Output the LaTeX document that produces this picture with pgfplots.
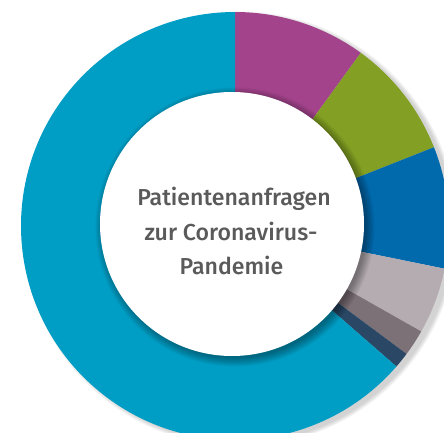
\documentclass[border=0pt]{standalone}
\usepackage{pgfplots}
\pgfplotsset{compat=1.18}
\usepackage{fontspec}
\setmainfont{Fira Sans}
\newfontfamily\labelfont{Fira Sans Medium}
\definecolor{cMag}{HTML}{A2438B}
\definecolor{cGreen}{HTML}{83A024}
\definecolor{cBlue}{HTML}{006AAD}
\definecolor{cLGrey}{HTML}{B4ACB1}
\definecolor{cDGrey}{HTML}{7C7177}
\definecolor{cNavy}{HTML}{2A4865}
\definecolor{cCyan}{HTML}{009DC4}
\definecolor{cText}{HTML}{5A5A5A}
\begin{document}
\begin{tikzpicture}
\useasboundingbox (0,0) rectangle (444pt,432pt);
\begin{axis}[
  at={(0,0)}, anchor=south west,
  x=1pt, y=1pt, scale only axis,
  xmin=0, xmax=444, ymin=0, ymax=432,
  hide axis, clip=true, clip mode=global,
]
\def\cx{235}\def\cy{206}\def\ro{214}
\def\icx{232}\def\icy{208}\def\ri{132}
\pgfplotsextra{
  % outer soft shadow (right / lower right only)
  \foreach \i in {1,...,8}{
    \fill[black, opacity=0.025] (axis cs:\cx+5,\cy-3) circle[radius=\ro pt+\i*0.6pt-1pt];
  }
  % slices (percent of all requests, clockwise from top)
  \xdef\cum{0}
  \foreach \v/\col in {10/cMag, 9/cGreen, 9.2/cBlue, 5/cLGrey, 2/cDGrey, 1.2/cNavy, 63.6/cCyan}{
    \pgfmathsetmacro\a{90-3.6*\cum}
    \pgfmathsetmacro\b{90-3.6*(\cum+\v)}
    \fill[\col] (axis cs:\cx,\cy) -- ++(\a:\ro pt) arc[start angle=\a, end angle=\b, radius=\ro pt] -- cycle;
    \pgfmathparse{\cum+\v}\xdef\cum{\pgfmathresult}
  }
  % inner shadow of the white disc
  \foreach \i in {1,...,12}{
    \fill[black, opacity=0.03] (axis cs:\icx+3,\icy-3) circle[radius=\ri pt+\i*0.8pt-2pt];
  }
  \fill[white] (axis cs:\icx,\icy) circle[radius=\ri pt];
  \node[anchor=base, text=cText, font=\labelfont\fontsize{23.1}{30}\selectfont, inner sep=0pt] at (axis cs:234,227) {Patientenanfragen};
  \node[anchor=base, text=cText, font=\labelfont\fontsize{23.1}{30}\selectfont, inner sep=0pt] at (axis cs:231,192) {zur Coronavirus-};
  \node[anchor=base, text=cText, font=\labelfont\fontsize{23.1}{30}\selectfont, inner sep=0pt] at (axis cs:231.5,158) {Pandemie};
}
\end{axis}
\end{tikzpicture}
\end{document}
